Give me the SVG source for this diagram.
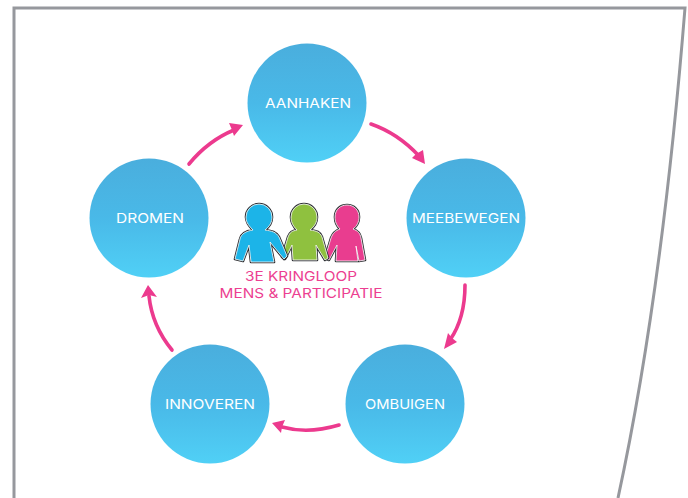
<svg xmlns="http://www.w3.org/2000/svg" width="688" height="498" viewBox="0 0 688 498">
<style>
.node{fill:url(#bub)}
.lbl{font-family:Inter,"Liberation Sans",Arial,sans-serif;font-size:13.5px;font-weight:400;fill:#fff;text-anchor:middle}
.cap{font-family:Inter,"Liberation Sans",Arial,sans-serif;font-size:13.5px;fill:#ec3f91;text-anchor:middle}
.arc{fill:none;stroke:#ec3a8e;stroke-width:3.6;stroke-linecap:round}
.tip{fill:#ec3a8e}
.out{fill:none;stroke:#2a2c30;stroke-width:2.6;stroke-linejoin:round}
.fil{stroke:#fff;stroke-width:.8;stroke-linejoin:round}
</style>
<defs>
<linearGradient id="bub" x1="0" y1="0" x2="0" y2="1"><stop offset="0" stop-color="#4aaedd"/><stop offset="0.5" stop-color="#49b9e8"/><stop offset="1" stop-color="#50d0f6"/></linearGradient>
<path id="pp" d="M340 229C336 225 335 221 335 217C335 209 341 205 347 205C354 205 359 210 359 217C359 222 357 226 353 229C358 231 360 233 361 238L365 260L359 261L356 246L358 261H336L337 245L329 260L325 258L331 238C333 233 335 231 340 229Z"/>
<path id="pg" d="M297 230C292 225 291 221 291 217A13 13 0 0 1 317 217C317 222 315 226 310 230C317 231 320 232 322 237L328 258L325 260L316 245L317 260H293L292 245L285 259L282 257L288 237C290 232 292 231 297 230Z"/>
<path id="pb" d="M253 230C247 224 246 221 246 217A13 13 0 0 1 272 217C272 222 270 226 265 230C272 231 276 232 279 237L287 256L284 259L270 242L274 262H251L249 245L243 261L235 259L240 239C241 234 246 231 253 230Z"/>
</defs>
<path id="frame" d="M14 498V8H685C672 170 650 350 618 498" fill="#fff" stroke="#96989d" stroke-width="3"/>
<g id="connectors">
<path class="arc" d="M371 124C391 131 407 143 419 156"/><path class="tip" d="M425 164L412 158L416 154L423 150Z"/>
<path class="arc" d="M465 285C465 307 459 327 450 340"/><path class="tip" d="M444 349L448 333L452 338L457 342Z"/>
<path class="arc" d="M339 425C319 431 300 432 282 427"/><path class="tip" d="M272 423L285 420L282 427L281 433Z"/>
<path class="arc" d="M172 350C158 333 151 315 149 296"/><path class="tip" d="M148 285L157 297L149 295L141 298Z"/>
<path class="arc" d="M189 164C203 147 217 137 234 130"/><path class="tip" d="M243 125L229 123L232 130L234 136Z"/>
</g>
<g id="n-aanhaken"><circle class="node" cx="307" cy="103" r="59.5"/><text class="lbl" x="308" y="108" textLength="86" lengthAdjust="spacingAndGlyphs">AANHAKEN</text></g>
<g id="n-meebewegen"><circle class="node" cx="466" cy="218" r="59.5"/><text class="lbl" x="466" y="223" textLength="108" lengthAdjust="spacingAndGlyphs">MEEBEWEGEN</text></g>
<g id="n-ombuigen"><circle class="node" cx="405" cy="404" r="59.5"/><text class="lbl" x="405" y="409" textLength="80" lengthAdjust="spacingAndGlyphs">OMBUIGEN</text></g>
<g id="n-innoveren"><circle class="node" cx="210" cy="404" r="59.5"/><text class="lbl" x="210" y="409" textLength="90" lengthAdjust="spacingAndGlyphs">INNOVEREN</text></g>
<g id="n-dromen"><circle class="node" cx="149" cy="218" r="59.5"/><text class="lbl" x="150" y="223" textLength="68" lengthAdjust="spacingAndGlyphs">DROMEN</text></g>
<g id="n-center">
<use href="#pp" class="out"/><use href="#pp" class="fil" fill="#e93d8f"/>
<use href="#pg" class="out"/><use href="#pg" class="fil" fill="#8fc13f"/>
<use href="#pb" class="out"/><use href="#pb" class="fil" fill="#1cb4e8"/>
<text class="cap" x="301" y="281" textLength="112" lengthAdjust="spacingAndGlyphs">3E KRINGLOOP</text>
<text class="cap" x="301" y="298" textLength="163" lengthAdjust="spacingAndGlyphs">MENS &amp; PARTICIPATIE</text>
</g>
</svg>
